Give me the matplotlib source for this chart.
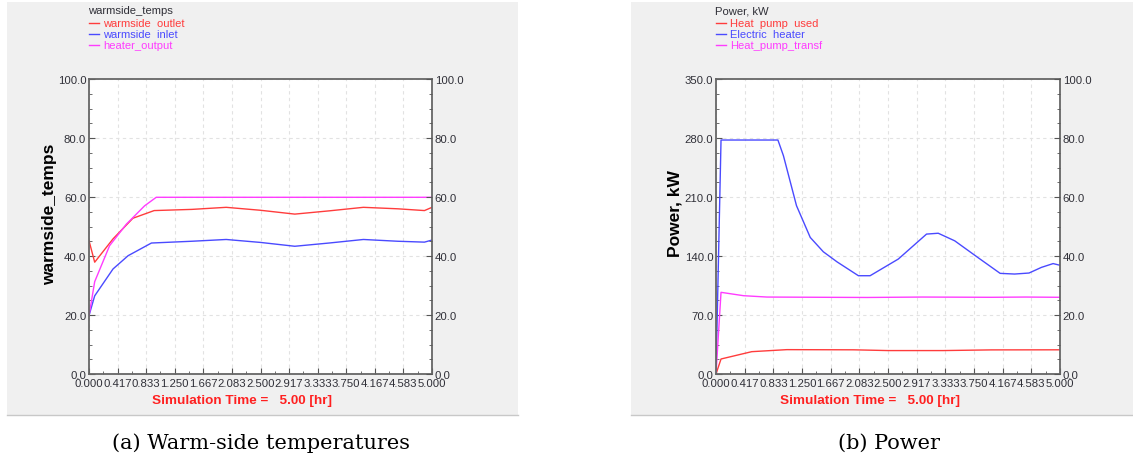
import numpy as np
import matplotlib
matplotlib.use('Agg')
import matplotlib.pyplot as plt
from matplotlib.patches import Rectangle
from matplotlib.ticker import MultipleLocator, FixedLocator

# warm-side temperatures [degC] vs time [hr]
outlet_t = [0.0, 0.083, 0.35, 0.64, 0.95, 1.5, 2.0, 2.5, 3.0, 3.5, 4.0, 4.5, 4.89, 5.0]
outlet = [45.2, 37.9, 45.8, 52.8, 55.4, 55.8, 56.5, 55.5, 54.2, 55.3, 56.5, 56.0, 55.4, 56.5]
inlet_t = [0.0, 0.083, 0.35, 0.57, 0.91, 1.5, 2.0, 2.5, 3.0, 3.5, 4.0, 4.5, 4.89, 5.0]
inlet = [19.8, 26.5, 35.6, 40.1, 44.4, 45.0, 45.6, 44.6, 43.3, 44.4, 45.6, 45.0, 44.7, 45.4]
heater_t = [0.0, 0.083, 0.30, 0.545, 0.81, 0.98, 5.0]
heater = [19.8, 31.3, 43.5, 50.8, 57.0, 59.9, 59.9]

# power [kW] vs time [hr]
hp_used_t = [0.0, 0.073, 0.52, 1.03, 2.0, 2.5, 3.3, 4.0, 5.0]
hp_used = [0.0, 17.8, 26.5, 28.9, 28.7, 27.8, 27.8, 28.6, 28.7]
elec_t = [0.0, 0.073, 0.90, 0.98, 1.17, 1.37, 1.56, 1.76, 2.07, 2.24, 2.65, 3.06,
          3.23, 3.47, 3.81, 4.13, 4.34, 4.55, 4.73, 4.90, 5.0]
elec = [0.0, 277.6, 277.6, 259.0, 199.7, 162.0, 145.0, 133.0, 116.6, 116.6, 136.4,
        166.0, 167.0, 158.0, 138.0, 119.4, 118.6, 119.8, 126.5, 131.0, 129.0]
hp_transf_t = [0.0, 0.073, 0.40, 0.74, 1.56, 2.2, 3.0, 4.0, 4.5, 5.0]
hp_transf = [0.0, 96.9, 92.9, 91.3, 91.0, 90.8, 91.3, 91.0, 91.3, 91.0]

x_ticks = [i * 5.0 / 12 for i in range(13)]
RED, BLUE, MAG = '#ff3c3c', '#4a4aff', '#ff3cff'
TXT = '#303038'
W, H = 1133, 464

plt.rcParams['font.family'] = ['Liberation Sans', 'DejaVu Sans']
fig = plt.figure(figsize=(W / 100, H / 100), dpi=100)
fig.patch.set_facecolor('white')


def fx(px):
    return px / W


def fy(py):
    return 1 - py / H


# grey window backgrounds
for x0, x1 in [(7, 518), (631, 1133)]:
    fig.patches.append(Rectangle((fx(x0), fy(416)), fx(x1 - x0), (416 - 3) / H,
                                 transform=fig.transFigure, facecolor='#f0f0f0',
                                 edgecolor='none', zorder=-5))
    fig.add_artist(plt.Line2D([fx(x0), fx(x1)], [fy(416), fy(416)],
                              transform=fig.transFigure, color='#c8c8c8', lw=1,
                              zorder=-4))


def make_panel(left, right, ymax, ystep, yminor, title, names, colors, series, ylabel,
               label_x, caption):
    ax = fig.add_axes([fx(left), fy(375), fx(right - left), (375 - 80) / H])
    ax.set_facecolor('white')
    for (t, v), c in zip(series, colors):
        ax.plot(t, v, color=c, lw=1.0)
    ax.set_xlim(0, 5)
    ax.set_ylim(0, ymax)
    ax.xaxis.set_major_locator(FixedLocator(x_ticks))
    ax.xaxis.set_minor_locator(MultipleLocator(5.0 / 24))
    ax.set_xticklabels(['%.3f' % v for v in x_ticks])
    ax.yaxis.set_major_locator(MultipleLocator(ystep))
    ax.yaxis.set_minor_locator(MultipleLocator(yminor))
    ax.yaxis.set_major_formatter(matplotlib.ticker.FormatStrFormatter('%.1f'))
    ax.grid(True, which='major', color='#e2e2e2', ls=(0, (3, 3)), lw=0.8)
    ax.tick_params(which='both', direction='in', colors='#555555', labelcolor=TXT,
                   labelsize=8.2, pad=2)
    ax.tick_params(which='major', length=4)
    ax.tick_params(which='minor', length=2)
    ax.tick_params(axis='x', pad=3)
    for s in ax.spines.values():
        s.set_color('#666666')
        s.set_linewidth(1.3)

    ax2 = ax.twinx()
    ax2.set_ylim(0, 100)
    ax2.yaxis.set_major_locator(MultipleLocator(20))
    ax2.yaxis.set_minor_locator(MultipleLocator(5))
    ax2.yaxis.set_major_formatter(matplotlib.ticker.FormatStrFormatter('%.1f'))
    ax2.tick_params(which='both', direction='in', colors='#555555', labelcolor=TXT,
                    labelsize=8.2, pad=2)
    ax2.tick_params(which='major', length=4)
    ax2.tick_params(which='minor', length=2)
    for s in ax2.spines.values():
        s.set_visible(False)

    # vertical axis title
    fig.text(fx(label_x), fy(214), ylabel, rotation=90, fontsize=12.5,
             fontweight='bold', color='black', ha='center', va='center')

    # legend block above the plot
    fig.text(fx(left - 1), fy(11), title, fontsize=8.1, color=TXT, va='center')
    for i, (n, c) in enumerate(zip(names, colors)):
        yy = fy(24 + 11 * i)
        fig.add_artist(plt.Line2D([fx(left), fx(left + 10)], [yy, yy],
                                  transform=fig.transFigure, color=c, lw=1))
        fig.text(fx(left + 14), yy, n, fontsize=8.0, color=c, va='center')

    fig.text(fx((left + right) / 2 - 18), fy(401), 'Simulation Time =   5.00 [hr]',
             fontsize=9.7, fontweight='bold', color='#ff2020', ha='center', va='center')
    fig.text(fx((left + right) / 2 + 1), fy(443), caption, fontsize=15,
             family='DejaVu Serif', color='black', ha='center', va='center')
    return ax


make_panel(89, 432, 100, 20, 5, 'warmside_temps',
           ['warmside  outlet', 'warmside  inlet', 'heater_output'], [RED, BLUE, MAG],
           [(outlet_t, outlet), (inlet_t, inlet), (heater_t, heater)],
           'warmside_temps', 50, '(a) Warm-side temperatures')
make_panel(716, 1060, 350, 70, 17.5, 'Power, kW',
           ['Heat  pump  used', 'Electric  heater', 'Heat_pump_transf'], [RED, BLUE, MAG],
           [(hp_used_t, hp_used), (elec_t, elec), (hp_transf_t, hp_transf)],
           'Power, kW', 675, '(b) Power')

fig.savefig('out.png', dpi=100, facecolor='white')
